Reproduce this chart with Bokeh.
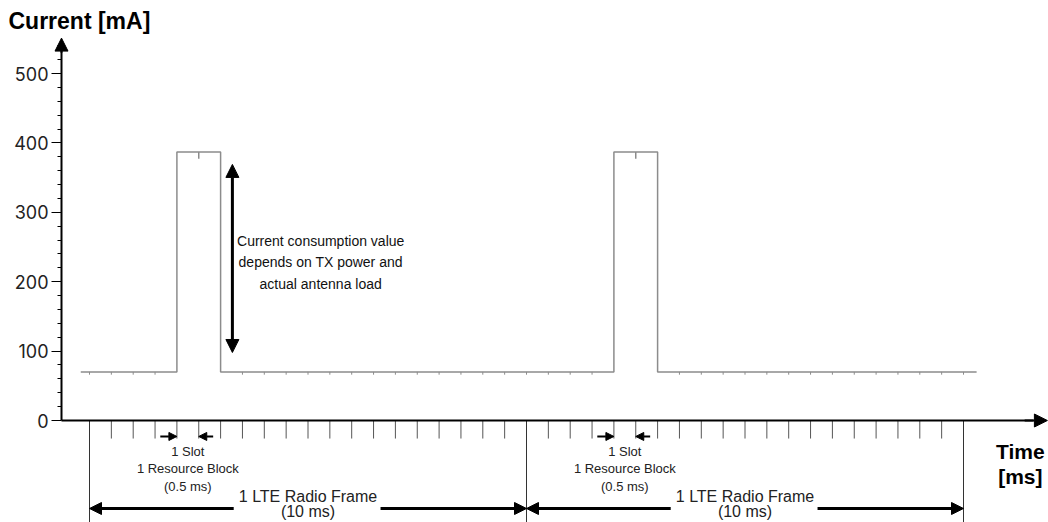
from bokeh.plotting import figure
from bokeh.models import Range1d, LinearAxis, FixedTicker, Arrow, NormalHead, Label
from bokeh.embed import file_html
from bokeh.resources import INLINE

# ---------------- data ----------------
y_ticks = [0, 100, 200, 300, 400, 500]
y_minor_ticks = [20, 40, 60, 80, 120, 140, 160, 180, 220, 240, 260, 280,
                 320, 340, 360, 380, 420, 440, 460, 480, 520, 540]

# current trace (ms, mA)
time_ms = [-0.2, 2.0, 2.0, 3.0, 3.0, 12.0, 12.0, 13.0, 13.0, 20.3]
current_ma = [70, 70, 387, 387, 70, 70, 387, 387, 70, 70]
idle_ma = 70
tx_ma = 387
tx_windows = [(2.0, 3.0), (12.0, 13.0)]

# LTE timing grid
slot_ms = [0.5 * i for i in range(41)]   # slot boundaries (0.5 ms)
frame_ms = [0, 10, 20]                    # radio frame boundaries (10 ms)

FONT = "Liberation Sans"
W, H = 1048, 522
PX_MS = 43.7      # pixels per ms
PX_MA = 0.694     # pixels per mA
X0_PX, Y0_PX = 89, 420   # where t=0 / I=0 sit on the canvas

# ---------------- figure ----------------
p = figure(width=W, height=H,
           x_range=Range1d(-X0_PX / PX_MS, (W - X0_PX) / PX_MS),
           y_range=Range1d(-(H - Y0_PX) / PX_MA, Y0_PX / PX_MA),
           x_axis_type=None, y_axis_type=None,
           output_backend="svg", toolbar_location=None,
           min_border=0)
p.outline_line_color = None
p.background_fill_color = "white"
p.border_fill_color = "white"

Y_AXIS_T = (61 - X0_PX) / PX_MS

# y axis
yaxis = LinearAxis(ticker=FixedTicker(ticks=y_ticks, minor_ticks=y_minor_ticks),
                   bounds=(0, 540), fixed_location=Y_AXIS_T)
yaxis.axis_line_width = 2
yaxis.axis_line_color = "black"
yaxis.major_tick_out = 10
yaxis.major_tick_in = 0
yaxis.minor_tick_out = 4
yaxis.minor_tick_in = 0
yaxis.major_tick_line_color = "black"
yaxis.minor_tick_line_color = "black"
yaxis.major_label_text_font = "Inter"
yaxis.major_label_text_font_size = "18px"
yaxis.major_label_text_color = "#222222"
yaxis.major_label_standoff = 3
p.add_layout(yaxis, "left")

# x axis (time)
xaxis = LinearAxis(ticker=FixedTicker(ticks=[], minor_ticks=[]),
                   bounds=(Y_AXIS_T, 21.6), fixed_location=0)
xaxis.axis_line_width = 2
xaxis.axis_line_color = "black"
xaxis.major_tick_line_color = None
xaxis.minor_tick_line_color = None
p.add_layout(xaxis, "below")

# slot tick marks below the time axis
slot_marks = [t for t in slot_ms if t not in frame_ms]
p.segment(x0=slot_marks, y0=[0] * len(slot_marks), x1=slot_marks, y1=[-26] * len(slot_marks),
          line_color="#555555", line_width=1)

# frame boundary lines
p.segment(x0=frame_ms, y0=[0] * 3, x1=frame_ms, y1=[-150] * 3,
          line_color="#333333", line_width=1)

# axis arrow heads
p.add_layout(Arrow(end=NormalHead(size=13, fill_color="black", line_color="black"),
                   x_start=Y_AXIS_T, y_start=530, x_end=Y_AXIS_T, y_end=551,
                   line_width=2, line_color="black"))
p.add_layout(Arrow(end=NormalHead(size=13, fill_color="black", line_color="black"),
                   x_start=21.4, y_start=0, x_end=21.92, y_end=0,
                   line_width=2, line_color="black"))

# current trace
p.line(time_ms, current_ma, line_color="#8c8c8c", line_width=1.5)

def in_tx(t):
    return any(a <= t <= b for a, b in tx_windows)

dip_x = [t for t in slot_ms if not in_tx(t)]
p.segment(x0=dip_x, y0=[idle_ma] * len(dip_x), x1=dip_x, y1=[idle_ma - 4] * len(dip_x),
          line_color="#8c8c8c", line_width=1)
mid_tx = [(a + b) / 2 for a, b in tx_windows]
p.segment(x0=mid_tx, y0=[tx_ma] * len(mid_tx), x1=mid_tx, y1=[tx_ma - 10] * len(mid_tx),
          line_color="#8c8c8c", line_width=1.5)

# vertical double arrow
p.add_layout(Arrow(start=NormalHead(size=13, fill_color="black", line_color="black"),
                   end=NormalHead(size=13, fill_color="black", line_color="black"),
                   x_start=3.27, y_start=98, x_end=3.27, y_end=369,
                   line_width=3, line_color="black"))

for txt, yy in [("Current consumption value", 259),
                ("depends on TX power and", 228),
                ("actual antenna load", 196)]:
    p.add_layout(Label(x=5.29, y=yy, text=txt, text_align="center", text_baseline="middle",
                       text_font=FONT, text_font_size="14px", text_color="#111111"))

# slot arrows and labels
for a, b in tx_windows:
    p.add_layout(Arrow(end=NormalHead(size=8, fill_color="black", line_color="black"),
                       x_start=a - 0.38, y_start=-23, x_end=a, y_end=-23,
                       line_width=2, line_color="black"))
    p.add_layout(Arrow(end=NormalHead(size=8, fill_color="black", line_color="black"),
                       x_start=a + 0.83, y_start=-23, x_end=a + 0.5, y_end=-23,
                       line_width=2, line_color="black"))
    cx = a + 0.25
    for txt, yy in [("1 Slot", -44.7), ("1 Resource Block", -69.2), ("(0.5 ms)", -95.1)]:
        p.add_layout(Label(x=cx, y=yy, text=txt, text_align="center", text_baseline="middle",
                           text_font=FONT, text_font_size="13px", text_color="#222222"))

# radio frame arrows and labels
for f0, f1 in [(0, 10), (10, 20)]:
    p.add_layout(Arrow(end=NormalHead(size=12, fill_color="black", line_color="black"),
                       x_start=f0 + 3.3, y_start=-126.8, x_end=f0, y_end=-126.8,
                       line_width=3, line_color="black"))
    p.add_layout(Arrow(end=NormalHead(size=12, fill_color="black", line_color="black"),
                       x_start=f0 + 6.66, y_start=-126.8, x_end=f1, y_end=-126.8,
                       line_width=3, line_color="black"))
    cx = (f0 + f1) / 2
    for txt, yy in [("1 LTE Radio Frame", -109.5), ("(10 ms)", -131.8)]:
        p.add_layout(Label(x=cx, y=yy, text=txt, text_align="center", text_baseline="middle",
                           text_font=FONT, text_font_size="16px", text_color="#222222"))

# axis titles
p.add_layout(Label(x=-1.854, y=575, text="Current [mA]", text_align="left", text_baseline="middle",
                   text_font=FONT, text_font_size="23px", text_font_style="bold", text_color="black"))
for txt, yy in [("Time", -44.7), ("[ms]", -80.7)]:
    p.add_layout(Label(x=21.3, y=yy, text=txt, text_align="center", text_baseline="middle",
                       text_font=FONT, text_font_size="21px", text_font_style="bold", text_color="black"))

open("out.html", "w").write(file_html(p, INLINE))
